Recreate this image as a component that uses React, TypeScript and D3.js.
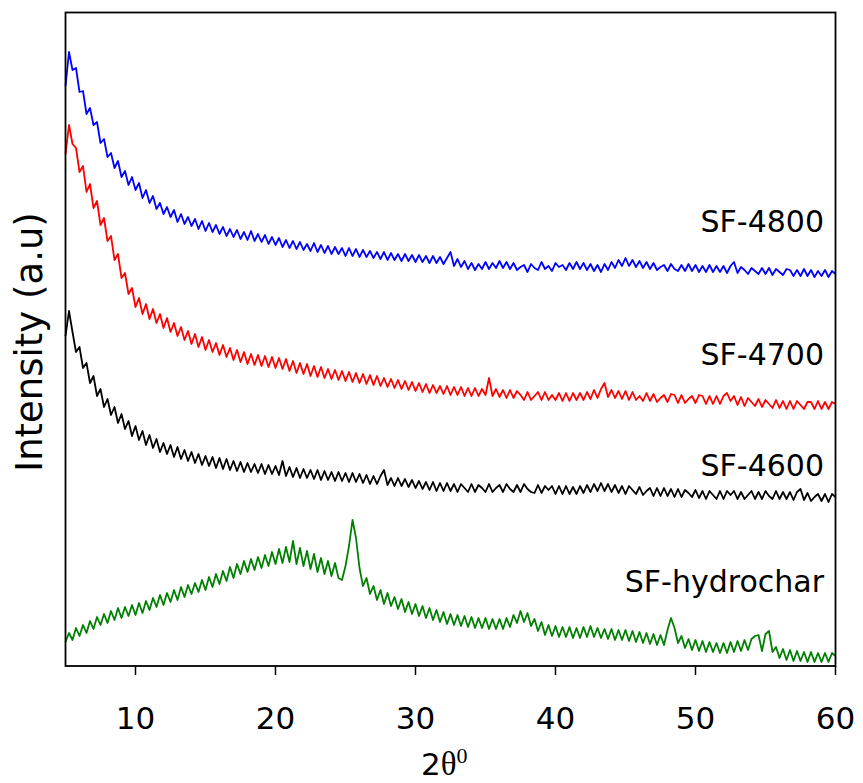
import React from 'react';
import * as d3 from 'd3';

// 2θ grid of the scans: 5° to 60° in 0.25° steps
const twoTheta = d3.range(5, 60.001, 0.25);

// intensities (a.u.), offset stacked as in the figure
const sf4800 = [
  580, 614, 596, 598, 574, 575, 552, 558, 541, 544, 523, 527, 509, 513, 498, 505,
  489, 495, 481, 489, 476, 483, 468, 476, 463, 470, 457, 463, 452, 459, 449, 456,
  444, 452, 442, 449, 440, 447, 437, 445, 435, 443, 434, 441, 432, 439, 430, 437,
  429, 436, 427, 434, 426, 435, 425, 432, 424, 431, 422, 429, 421, 428, 419, 426,
  418, 425, 417, 424, 416, 422, 415, 423, 414, 421, 413, 420, 412, 419, 412, 418,
  410, 418, 410, 417, 409, 416, 409, 415, 408, 414, 407, 414, 406, 413, 406, 412,
  405, 412, 405, 411, 404, 411, 404, 410, 403, 410, 403, 409, 402, 408, 414, 400,
  407, 399, 405, 397, 403, 396, 402, 397, 404, 397, 403, 398, 405, 398, 404, 397,
  403, 396, 399, 401, 394, 402, 398, 396, 404, 397, 400, 395, 403, 399, 401, 396,
  403, 397, 404, 397, 403, 396, 402, 395, 401, 394, 402, 396, 404, 398, 406, 400,
  408, 400, 406, 399, 405, 398, 404, 397, 403, 396, 399, 401, 395, 402, 397, 395,
  401, 395, 402, 395, 401, 394, 400, 394, 401, 394, 400, 394, 400, 393, 400, 404,
  393, 399, 396, 392, 398, 395, 392, 398, 392, 398, 391, 397, 394, 391, 397, 396,
  390, 396, 390, 397, 390, 396, 389, 395, 390, 396, 389, 395, 392,
];

const sf4700 = [
  512, 541, 522, 518, 494, 500, 474, 482, 458, 465, 441, 448, 425, 430, 406, 412,
  388, 393, 372, 378, 359, 368, 352, 362, 347, 357, 343, 352, 338, 348, 334, 343,
  330, 339, 326, 335, 322, 332, 319, 329, 316, 326, 314, 323, 311, 321, 309, 318,
  306, 316, 304, 314, 302, 312, 301, 311, 300, 310, 299, 309, 298, 308, 297, 307,
  295, 305, 293, 303, 292, 302, 290, 300, 289, 299, 288, 297, 287, 296, 286, 295,
  285, 294, 284, 293, 283, 292, 282, 291, 281, 290, 280, 288, 279, 287, 278, 286,
  277, 285, 276, 284, 275, 283, 274, 282, 273, 281, 273, 280, 272, 280, 271, 279,
  271, 279, 270, 278, 270, 278, 270, 277, 271, 288, 270, 277, 269, 276, 268, 276,
  268, 275, 271, 266, 274, 266, 270, 274, 266, 274, 266, 271, 266, 273, 265, 273,
  265, 273, 266, 273, 266, 274, 267, 276, 268, 277, 283, 269, 276, 268, 275, 267,
  275, 266, 274, 266, 270, 265, 273, 265, 272, 264, 268, 271, 264, 272, 271, 263,
  271, 263, 267, 270, 263, 271, 270, 262, 270, 262, 270, 262, 270, 273, 265, 270,
  261, 269, 260, 268, 264, 260, 267, 259, 266, 262, 258, 266, 258, 265, 257, 265,
  257, 265, 261, 257, 264, 264, 257, 265, 257, 264, 257, 264, 262,
];

const sf4600 = [
  330, 355, 334, 314, 319, 298, 303, 283, 290, 270, 277, 259, 267, 251, 259, 243,
  252, 237, 245, 230, 240, 226, 235, 221, 231, 218, 227, 214, 223, 212, 221, 209,
  219, 207, 216, 205, 214, 203, 212, 201, 210, 200, 209, 198, 208, 197, 207, 196,
  205, 195, 204, 194, 203, 194, 202, 193, 202, 192, 201, 192, 200, 191, 205, 190,
  199, 189, 198, 188, 197, 188, 196, 187, 196, 186, 195, 186, 194, 185, 194, 185,
  193, 184, 193, 184, 192, 183, 191, 182, 190, 182, 190, 196, 181, 188, 180, 188,
  180, 187, 179, 186, 178, 185, 177, 184, 176, 184, 175, 183, 175, 183, 175, 182,
  174, 182, 178, 174, 182, 174, 181, 178, 174, 182, 174, 178, 181, 174, 182, 177,
  174, 181, 174, 182, 177, 174, 173, 181, 173, 180, 176, 180, 172, 180, 172, 180,
  172, 179, 172, 180, 173, 181, 174, 182, 175, 183, 175, 182, 174, 181, 173, 180,
  172, 180, 176, 172, 179, 171, 175, 178, 170, 178, 170, 178, 170, 177, 169, 177,
  169, 176, 173, 169, 176, 168, 175, 167, 175, 171, 167, 175, 167, 175, 171, 175,
  167, 174, 167, 171, 175, 167, 174, 167, 175, 170, 167, 175, 167, 174, 167, 174,
  166, 174, 177, 166, 173, 165, 169, 172, 165, 172, 164, 172, 169,
];

const sfHydrochar = [
  24, 33, 26, 38, 30, 41, 33, 45, 37, 49, 41, 52, 43, 55, 46, 58,
  48, 59, 50, 61, 51, 63, 53, 65, 56, 68, 59, 71, 61, 73, 64, 76,
  66, 79, 69, 81, 72, 83, 74, 86, 76, 89, 79, 92, 82, 95, 85, 99,
  88, 102, 92, 105, 94, 107, 96, 109, 98, 111, 100, 114, 102, 117, 103, 119,
  104, 125, 102, 118, 100, 115, 97, 112, 94, 108, 92, 105, 90, 103, 88, 86,
  100, 120, 146, 128, 98, 80, 88, 72, 80, 66, 76, 62, 73, 60, 69, 57,
  67, 54, 64, 52, 62, 50, 60, 48, 58, 46, 56, 44, 54, 42, 52, 41,
  51, 40, 50, 39, 49, 38, 48, 38, 48, 37, 47, 37, 47, 37, 48, 39,
  51, 43, 55, 44, 53, 40, 47, 35, 44, 31, 41, 30, 40, 29, 39, 29,
  39, 28, 38, 28, 39, 29, 40, 29, 38, 28, 37, 27, 37, 26, 36, 26,
  36, 25, 35, 24, 34, 23, 33, 22, 32, 21, 31, 21, 36, 48, 38, 23,
  30, 18, 27, 16, 26, 15, 25, 14, 24, 14, 23, 13, 23, 13, 24, 14,
  25, 15, 26, 16, 27, 30, 31, 15, 32, 35, 14, 19, 8, 17, 6, 16,
  5, 15, 5, 14, 4, 14, 4, 13, 4, 13, 4, 13, 10,
];

const series = [
  { name: 'SF-4800', values: sf4800, color: '#0000ff', labelY: 232 },
  { name: 'SF-4700', values: sf4700, color: '#ff0000', labelY: 365 },
  { name: 'SF-4600', values: sf4600, color: '#000000', labelY: 476 },
  { name: 'SF-hydrochar', values: sfHydrochar, color: '#008000', labelY: 592 },
];

const xTicks = [10, 20, 30, 40, 50, 60];

const W = 863;
const H = 783;
const left = 65.5;
const right = 835.5;
const top = 12.5;
const bottom = 666;
const font = 'DejaVu Sans, Verdana, sans-serif';

const App = () => {
  const x = d3.scaleLinear().domain([5, 60]).range([left, right]);
  const y = d3.scaleLinear().domain([0, bottom - top]).range([bottom, top]);

  const line = d3.line<number>()
    .x((_, i) => x(twoTheta[i]))
    .y((d) => y(d));

  return (
    <svg
      width={W}
      height={H}
      viewBox={`0 0 ${W} ${H}`}
      style={{ position: 'absolute', left: 0, top: 0, background: '#fff' }}
    >
      {/* traces */}
      {series.map((s) => (
        <path
          key={s.name}
          d={line(s.values) || ''}
          fill="none"
          stroke={s.color}
          strokeWidth={1.8}
          strokeLinejoin="round"
        />
      ))}

      {/* series labels */}
      {series.map((s) => (
        <text
          key={s.name + '-label'}
          x={824}
          y={s.labelY}
          textAnchor="end"
          fontFamily={font}
          fontSize={30}
          fill="#000"
        >
          {s.name}
        </text>
      ))}

      {/* frame */}
      <rect
        x={left}
        y={top}
        width={right - left}
        height={bottom - top}
        fill="none"
        stroke="#000"
        strokeWidth={1.8}
      />

      {/* bottom ticks */}
      {xTicks.map((t) => (
        <g key={t} transform={`translate(${x(t)},0)`}>
          <line y1={bottom} y2={bottom + 9} stroke="#000" strokeWidth={1.5} />
          <text
            y={729}
            textAnchor="middle"
            fontFamily={font}
            fontSize={31}
            fill="#000"
          >
            {t}
          </text>
        </g>
      ))}

      {/* axis titles */}
      <text x={421} y={775} fontSize={31} fill="#000">
        <tspan fontFamily={font}>2</tspan>
        <tspan fontFamily="Liberation Serif, serif" fontSize={33}>θ</tspan>
        <tspan fontFamily="Liberation Serif, serif" fontSize={22} dy={-12}>0</tspan>
      </text>
      <text
        transform="translate(42,342) rotate(-90)"
        textAnchor="middle"
        fontFamily={font}
        fontSize={37}
        fill="#000"
      >
        Intensity (a.u)
      </text>
    </svg>
  );
};

export default App;
